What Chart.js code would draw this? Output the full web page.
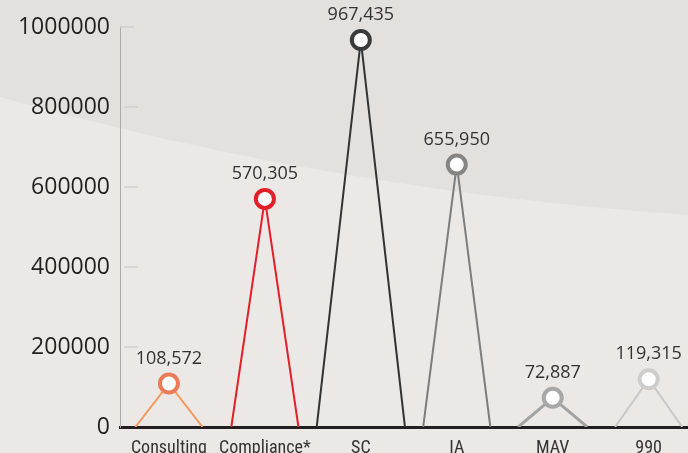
<!DOCTYPE html>
<html>
<head>
<meta charset="utf-8">
<script src="https://cdn.jsdelivr.net/npm/chart.js@4/dist/chart.umd.min.js"></script>
<style>
  html, body { margin: 0; padding: 0; background: #ebe8e5; }
  #wrap { width: 688px; height: 453px; position: relative; }
</style>
</head>
<body>
<div id="wrap"><canvas id="chart"></canvas></div>
<script>
// data
const categories = ['Consulting', 'Compliance*', 'SC', 'IA', 'MAV', '990'];
const values = [108572, 570305, 967435, 655950, 72887, 119315];
const baseHalfWidths = [0.35, 0.35, 0.46, 0.35, 0.36, 0.35];
const yTicks = [0, 200000, 400000, 600000, 800000, 1000000];

const lineColors = ['#f39a5f', '#e3202a', '#333333', '#7d7d7d', '#a3a3a3', '#c8c8c8'];
const pointColors = ['#ec7b57', '#e3202a', '#3a3a3a', '#858585', '#a8a8a8', '#cdcdcd'];
const lineWidths = [2, 2, 2, 2, 3, 2];

const datasets = categories.map((c, i) => ({
    label: c,
    data: [
        { x: i - baseHalfWidths[i], y: 0 },
        { x: i, y: values[i] },
        { x: i + baseHalfWidths[i], y: 0 }
    ],
    borderColor: lineColors[i],
    borderWidth: lineWidths[i],
    pointRadius: [0, 9, 0],
    pointHoverRadius: [0, 9, 0],
    pointBorderWidth: 4,
    pointBorderColor: pointColors[i],
    pointBackgroundColor: '#ffffff',
    tension: 0
}));

const backdrop = {
    id: 'backdrop',
    beforeDraw(chart) {
        const { ctx, width, height } = chart;
        ctx.save();
        ctx.fillStyle = '#ebe8e5';
        ctx.fillRect(0, 0, width, height);
        ctx.beginPath();
        ctx.moveTo(0, 0);
        ctx.lineTo(0, 97);
        ctx.quadraticCurveTo(330, 190, width, 215);
        ctx.lineTo(width, 0);
        ctx.closePath();
        ctx.fillStyle = '#e3e0de';
        ctx.fill();
        ctx.restore();
    }
};

const tickStubs = {
    id: 'tickStubs',
    beforeDatasetsDraw(chart) {
        const { ctx, scales: { y }, chartArea } = chart;
        ctx.save();
        ctx.strokeStyle = '#cfcfcf';
        ctx.lineWidth = 1.5;
        yTicks.slice(1).forEach(v => {
            const py = y.getPixelForValue(v);
            const x0 = v === 1000000 ? chartArea.left : chartArea.left + 4;
            ctx.beginPath();
            ctx.moveTo(x0, py);
            ctx.lineTo(x0 + 14, py);
            ctx.stroke();
        });
        ctx.restore();
    }
};

const peakLabels = {
    id: 'peakLabels',
    afterDatasetsDraw(chart) {
        const { ctx } = chart;
        ctx.save();
        ctx.font = '18px "Open Sans"';
        ctx.fillStyle = '#333333';
        ctx.textAlign = 'center';
        ctx.textBaseline = 'middle';
        chart.data.datasets.forEach((ds, i) => {
            const pt = chart.getDatasetMeta(i).data[1];
            ctx.fillText(values[i].toLocaleString('en-US'), pt.x, pt.y - 25);
        });
        ctx.restore();
    }
};

new Chart(document.getElementById('chart'), {
    type: 'line',
    data: { datasets },
    options: {
        responsive: true,
        maintainAspectRatio: false,
        animation: false,
        layout: { padding: { top: 27, right: 0, left: 0, bottom: 0 } },
        plugins: { legend: { display: false }, tooltip: { enabled: false } },
        scales: {
            x: {
                type: 'linear',
                min: -0.51,
                max: 5.41,
                afterBuildTicks(scale) {
                    scale.ticks = categories.map((c, i) => ({ value: i }));
                },
                afterFit(scale) { scale.height = 26; },
                grid: { display: false },
                border: { display: true, color: '#231f20', width: 3 },
                ticks: {
                    autoSkip: false,
                    maxRotation: 0,
                    padding: 3,
                    color: '#333333',
                    font: { family: '"Liberation Sans Narrow", "Roboto Condensed", sans-serif', size: 18 },
                    callback: v => categories[v] ?? ''
                }
            },
            y: {
                min: 0,
                max: 1000000,
                afterBuildTicks(scale) {
                    scale.ticks = yTicks.map(v => ({ value: v }));
                },
                afterFit(scale) { scale.width = 120; },
                grid: { display: false, drawTicks: false },
                border: { display: true, color: '#aaaaaa', width: 1 },
                ticks: {
                    padding: 10,
                    color: '#231f20',
                    font: { family: '"Open Sans"', size: 23 },
                    callback: v => String(v)
                }
            }
        }
    },
    plugins: [backdrop, tickStubs, peakLabels]
});
</script>
</body>
</html>
